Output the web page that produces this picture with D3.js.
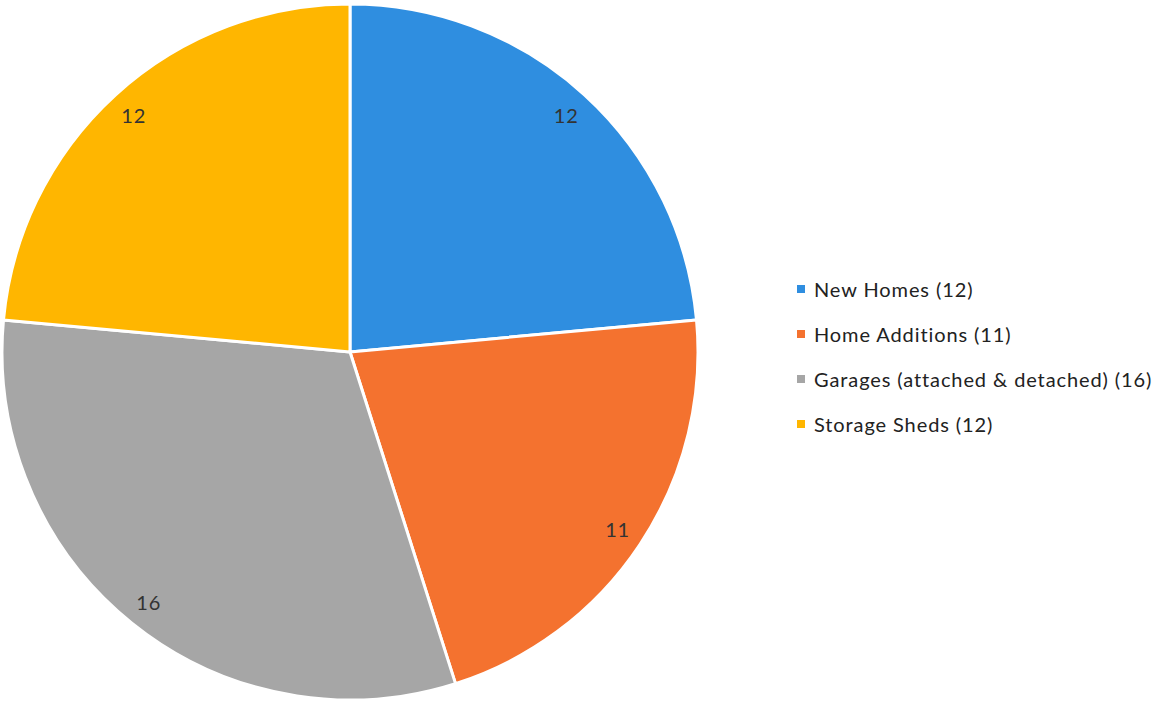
<!DOCTYPE html>
<html>
<head>
<meta charset="utf-8">
<script src="https://cdn.jsdelivr.net/npm/d3@7"></script>
<style>
  html, body { margin: 0; padding: 0; background: #fff; }
  svg { display: block; }
</style>
</head>
<body>
<svg id="chart" width="1157" height="705"></svg>
<script>
// Permit counts by project type
const categories = ["New Homes", "Home Additions", "Garages (attached & detached)", "Storage Sheds"];
const values = [12, 11, 16, 12];
const colors = ["#2f8ee0", "#f4722f", "#a6a6a6", "#ffb600"];

const width = 1157, height = 705;
const cx = 350, cy = 352, radius = 348;

const svg = d3.select("#chart");

const data = categories.map((c, i) => ({ name: c, value: values[i], color: colors[i] }));

const pie = d3.pie().value(d => d.value).sort(null);
const arcs = pie(data);

const arc = d3.arc().innerRadius(0).outerRadius(radius);
const labelArc = d3.arc().innerRadius(321).outerRadius(321);

const g = svg.append("g").attr("transform", `translate(${cx},${cy})`);

g.selectAll("path.slice")
  .data(arcs)
  .join("path")
  .attr("class", "slice")
  .attr("d", arc)
  .attr("fill", d => d.data.color)
  .attr("stroke", "#ffffff")
  .attr("stroke-width", 3)
  .attr("stroke-linejoin", "round");

g.selectAll("text.value")
  .data(arcs)
  .join("text")
  .attr("class", "value")
  .attr("transform", d => `translate(${labelArc.centroid(d)})`)
  .attr("text-anchor", "middle")
  .attr("dominant-baseline", "central")
  .attr("font-family", "Lato, 'Open Sans', sans-serif")
  .attr("font-size", 20)
  .attr("letter-spacing", 0.8)
  .attr("fill", "#333333")
  .text(d => d.data.value);

// Legend
const legend = svg.append("g").attr("transform", "translate(797,289)");
const rowH = 45;
const rows = legend.selectAll("g.row")
  .data(data)
  .join("g")
  .attr("class", "row")
  .attr("transform", (d, i) => `translate(0,${i * rowH})`);

rows.append("rect")
  .attr("x", 0).attr("y", -4)
  .attr("width", 8).attr("height", 8)
  .attr("fill", d => d.color);

rows.append("text")
  .attr("x", 17)
  .attr("y", 0)
  .attr("dominant-baseline", "central")
  .attr("font-family", "Lato, 'Open Sans', sans-serif")
  .attr("font-size", 20)
  .attr("letter-spacing", 0.9)
  .attr("fill", "#222222")
  .text(d => `${d.name} (${d.value})`);
</script>
</body>
</html>
